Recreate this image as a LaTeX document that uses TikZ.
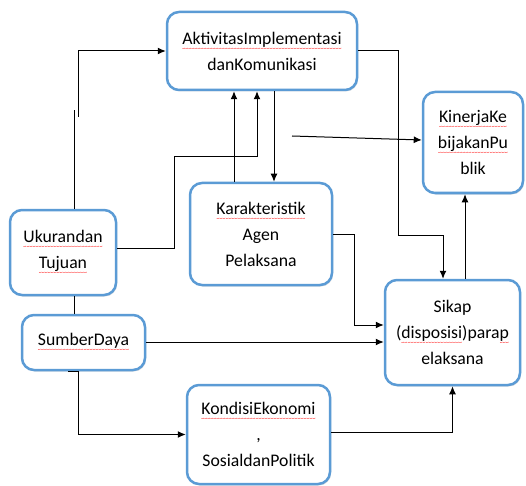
\documentclass[tikz,border=0pt]{standalone}
\usepackage{fontspec}
\setmainfont{Carlito}
\usetikzlibrary{arrows,arrows.meta,shadows,positioning}
\definecolor{kotakbiru}{RGB}{91,155,213}
\newcommand\salah[1]{\setbox0\hbox{#1}\leavevmode\rlap{\raisebox{-6pt}{\hbox to \wd0{\color{red}\fontsize{6}{6}\selectfont\xleaders\hbox{\char"7E}\hfill}}}\box0}

\begin{document}
\begin{tikzpicture}[x=1pt, y=1pt, >={Latex[length=8pt,width=7pt]}]
      \tikzset{
	  kotak/.style={rectangle,rounded corners=12pt,draw=kotakbiru,line width=2.5pt,fill=white,drop shadow={opacity=0.25,shadow xshift=1pt,shadow yshift=-1.5pt}, inner sep=0pt, align=center, font=\fontsize{17.7}{26}\selectfont},
	  panah/.style={->,line width=1pt,black}
      }
      \useasboundingbox (0,0) rectangle (526,485);

      \node at (262, 434) [kotak,minimum width=190,minimum height=78] (akt) {\salah{AktivitasImplementasi}\\danKomunikasi};
      \node at (473, 342.5) [kotak,minimum width=100,minimum height=101] (kin) {\salah{KinerjaKe}\\\salah{bijakanPu}\\blik};
      \node at (261, 251) [kotak,minimum width=142,minimum height=102] (kar) {\salah{Karakteristik}\\Agen\\Pelaksana};
      \node at (63, 232.5) [kotak,minimum width=106,minimum height=85] (uku) {\salah{Ukurandan}\\\salah{Tujuan}};
      \node at (83.5, 142.5) [kotak,minimum width=123,minimum height=55] (sum) {\salah{SumberDaya}};
      \node at (452.5, 152.5) [kotak,minimum width=135,minimum height=105] (sik) {Sikap\\(\salah{disposisi})para\salah{p}\\elaksana};
      \node at (258.5, 50.5) [kotak,minimum width=143,minimum height=99] (kon) {\salah{KondisiEkonomi}\\,\\SosialdanPolitik};

      \coordinate (t1) at (74, 375);
      \coordinate (t2) at (78, 368);
      \coordinate (lepas) at (292, 349);

      \draw[line width=1pt] (uku.north -| t1) -- (t1);
      \draw[panah] (t2) |- (akt.west);
      \draw[panah] ([yshift=4pt]uku.east) -- ++(57,0) |- ([xshift=-5pt]akt.south |- 0,328) -- ([xshift=-5pt]akt.south);
      \draw[panah] ([xshift=-27pt]kar.north) -- ([xshift=-27pt]kar.north |- akt.south);
      \draw[panah] ([xshift=12pt]akt.south) -- ([xshift=12pt]akt.south |- kar.north);
      \draw[panah] (lepas) -- ([yshift=2.5pt]kin.west);
      \draw[panah] (akt.east) -| (398, 250) -| ([xshift=-9.5pt]sik.north);
      \draw[panah] ([xshift=12.5pt]sik.north) -- ([xshift=12.5pt]sik.north |- kin.south);
      \draw[panah] (kar.east) -| (354, 160) -- (sik.west |- 0,160);
      \draw[panah] ([yshift=0.5pt]sum.east) -- (sik.west |- 0,143);
      \draw[line width=1pt] (uku.south -| t1) -- (sum.north -| t1);
      \draw[panah] ([xshift=-15.5pt]sum.south) -- ++(10,0) |- (kon.west);
      \draw[panah] ([yshift=2.5pt]kon.east) -| (sik.south);
\end{tikzpicture}
\end{document}
